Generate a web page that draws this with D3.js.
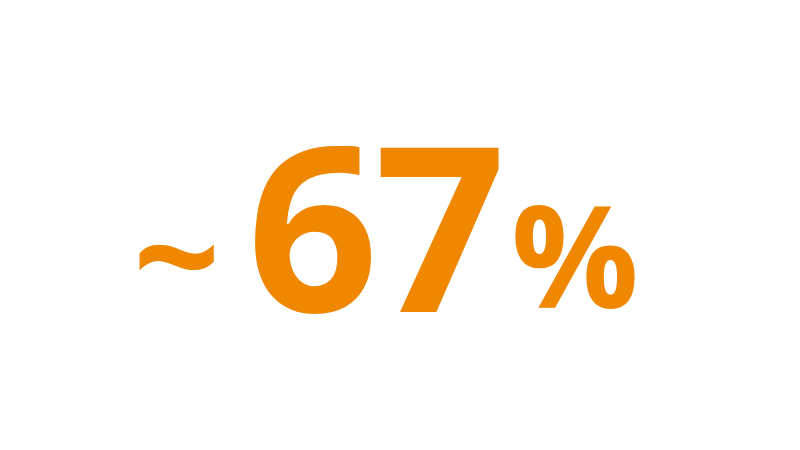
<!DOCTYPE html>
<html>
<head>
<meta charset="utf-8">
<script src="https://cdn.jsdelivr.net/npm/d3@7"></script>
<style>
  body { margin: 0; background: #fff; }
  text { font-family: "Open Sans", sans-serif; font-weight: 700; }
</style>
</head>
<body>
<div id="chart"></div>
<script>
var width = 800, height = 450;

// the figure shown
var prefix = ["~"];
var values = [67];
var suffix = ["%"];

var color = "#ef8700";

var svg = d3.select("#chart")
            .append("svg")
            .attr("width", width)
            .attr("height", height);

// baseline of the big number
var baseline = 312;

var tilde = svg.append("text")
    .attr("x", 133)
    .attr("y", 311)
    .attr("font-size", 153)
    .attr("fill", color)
    .text(prefix[0]);

var num = svg.append("text")
    .attr("x", 247)
    .attr("y", baseline)
    .attr("font-size", 230)
    .attr("letter-spacing", -4)
    .attr("fill", color)
    .text(d3.format("d")(values[0]));

var pct = svg.append("text")
    .attr("x", 511)
    .attr("y", 308)
    .attr("font-size", 142)
    .attr("fill", color)
    .text(suffix[0]);
</script>
</body>
</html>
